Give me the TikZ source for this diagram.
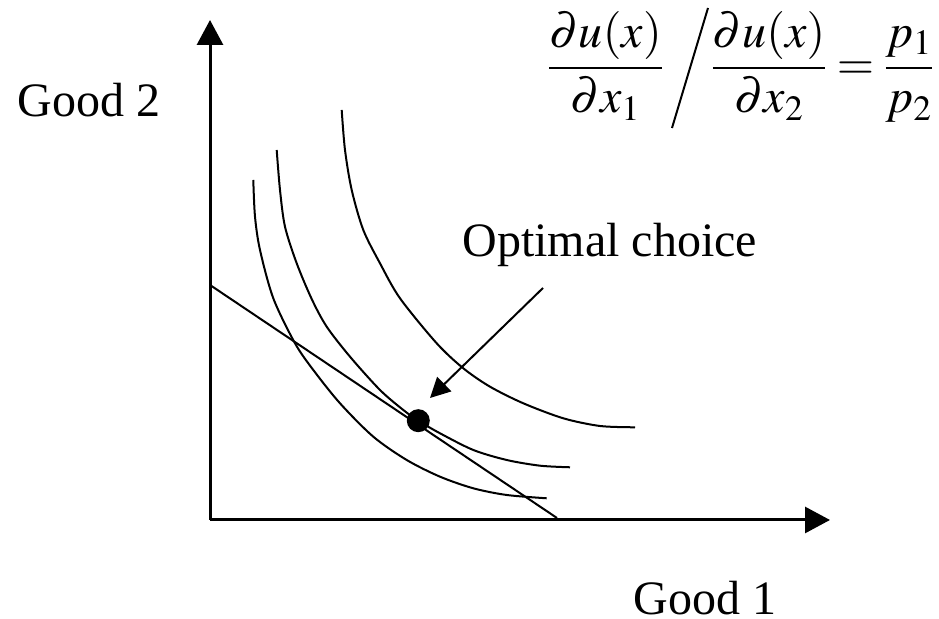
\documentclass[tikz,border=0pt]{standalone}
\usepackage{mathptmx}
\usepackage[no-math]{fontspec}
\setmainfont{Liberation Serif}
\usetikzlibrary{arrows.meta}
\begin{document}
\begin{tikzpicture}[x=0.5pt,y=0.5pt,
  axis/.style={line width=1.5pt,-{Triangle[length=12.5pt,width=13pt]}},
  curve/.style={line width=1pt,smooth,tension=0.5},
  lbl/.style={font=\fontsize{24}{28}\selectfont,inner sep=0pt},
  mth/.style={font=\fontsize{24}{28}\selectfont,inner sep=0pt,anchor=base}]
\useasboundingbox (0,0) rectangle (939,619);
\coordinate (O) at (210,99);
\coordinate (ytip) at (210,599);
\coordinate (xtip) at (830,99);
\draw[axis] (O) -- (ytip);
\draw[axis] (O) -- (xtip);
% budget line
\coordinate (b1) at (210,334);
\coordinate (b2) at (557,101);
\draw[line width=1pt] (b1) -- (b2);
% indifference curves
\draw[curve] plot coordinates {(253.3,439) (255,402.3) (260,369) (273.3,320.7) (295,275.7) (313.3,249) (340,215.7) (373.3,182.3) (406.7,159) (440,142.3) (473.3,130.7) (506.7,124) (546.7,120.7)};
\draw[curve] plot coordinates {(276.7,469) (280,429) (285,392.3) (296.7,355.7) (311.7,320) (326.7,292.3) (350,262.3) (380,229) (403.3,209) (418.3,198.3) (440,185.7) (473.3,169) (506.7,159) (540,153.3) (570,151.7)};
\draw[curve] plot coordinates {(341.7,509) (345,469) (351.7,429) (363.3,389) (380,355.7) (400,320.7) (436.7,275.7) (463.3,250.7) (490,232.3) (523.3,215.7) (563.3,200.7) (600,193) (635,191.7)};
% optimal point
\node[circle,fill=black,inner sep=0pt,minimum size=11.5pt] (dot) at (418.3,198.3) {};
\node[lbl,anchor=base west] (opt) at (462,362) {Optimal choice};
\coordinate (as) at (543,331);
\coordinate (at) at (430,221);
\draw[line width=1pt,-{Triangle[length=10pt,width=10pt]}] (as) -- (at);
% labels
\node[lbl] (g2) at (89,519) {Good 2};
\node[lbl,anchor=base] (g1) at (705,4) {Good 1};
% formula
\node[mth] (f1) at (605.5,539) {$\displaystyle\frac{\partial u(x)}{\partial x_1}$};
\coordinate (s1) at (672,491);
\coordinate (s2) at (708,611);
\draw[line width=1pt] (s1) -- (s2);
\node[mth] (f2) at (769,539) {$\displaystyle\frac{\partial u(x)}{\partial x_2}$};
\node[mth] (eqs) at (855.5,539) {$=$};
\node[mth] (f3) at (909,539) {$\displaystyle\frac{p_1}{p_2}$};
\end{tikzpicture}
\end{document}
